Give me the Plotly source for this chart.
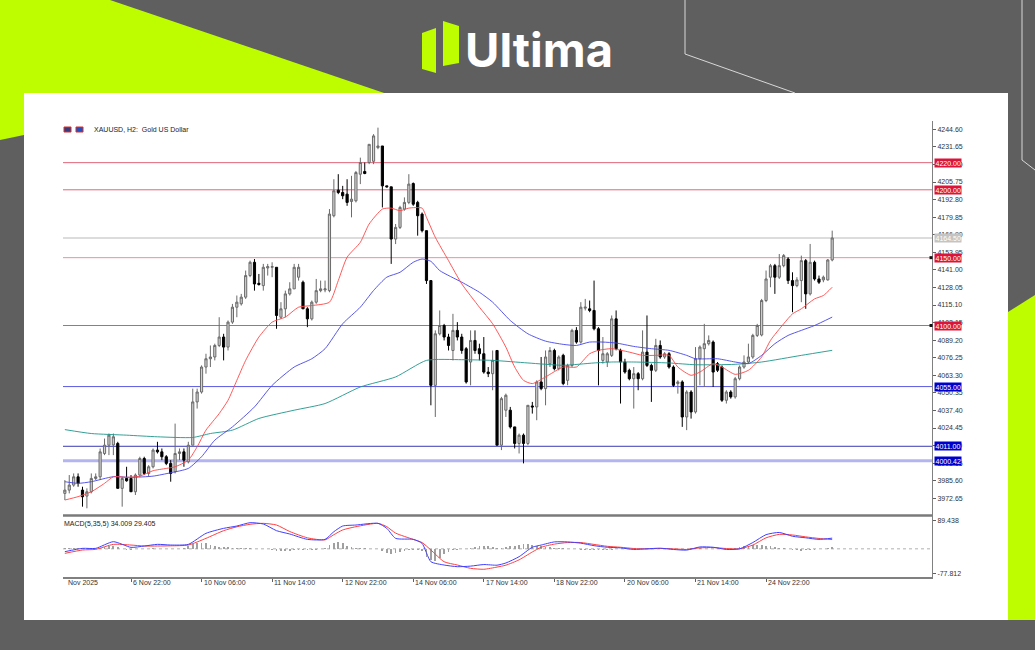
import plotly.graph_objects as go

W, H = 1035, 650
def px(x): return x / W
def py(y): return 1 - y / H

# ---------------- DATA ----------------
bars = list(range(175))
open_ = [
3976.3, 3978.7, 3982.4, 3988.5, 3978.7, 3974.3, 3977.5, 3987.3, 3988.5, 4005.7,
4011.8, 4012.0, 4013.1, 3980.0, 3987.3, 3987.3, 3977.5, 3989.8, 4002.0, 3991.0,
3995.9, 4008.2, 4006.9, 4003.3, 3998.4, 3992.2, 4005.7, 4006.9, 3999.6, 4011.8,
4043.7, 4051.0, 4069.4, 4075.5, 4076.8, 4085.3, 4091.5, 4084.1, 4102.5, 4113.5,
4116.0, 4120.9, 4136.8, 4146.6, 4131.1, 4129.4, 4142.4, 4142.9, 4142.9, 4106.1,
4112.3, 4123.3, 4127.0, 4135.6, 4131.9, 4112.3, 4104.9, 4117.2, 4125.7, 4126.2,
4125.7, 4180.9, 4199.7, 4198.0, 4196.8, 4191.4, 4191.9, 4211.5, 4213.5, 4220.1,
4221.0, 4231.1, 4232.3, 4202.9, 4202.2, 4163.7, 4172.3, 4185.8, 4190.7, 4204.6,
4190.7, 4182.1, 4169.9, 4133.1, 4055.9, 4093.9, 4100.0, 4091.5, 4081.6, 4096.4,
4091.5, 4082.9, 4073.1, 4089.0, 4082.9, 4079.2, 4065.7, 4064.5, 4081.6, 4011.8,
4037.6, 4037.6, 4025.3, 4013.1, 4019.2, 4013.1, 4040.7, 4040.0, 4058.4, 4053.5,
4071.8, 4081.6, 4068.2, 4078.0, 4059.6, 4070.6, 4096.4, 4087.8, 4112.8, 4112.3,
4111.1, 4097.6, 4074.3, 4073.1, 4078.0, 4104.9, 4081.7, 4073.1, 4067.0, 4060.8,
4064.5, 4060.8, 4080.4, 4070.6, 4067.0, 4085.3, 4076.8, 4079.2, 4069.4, 4057.2,
4058.4, 4032.6, 4051.0, 4036.3, 4075.5, 4082.9, 4086.6, 4087.8, 4071.9, 4069.4,
4044.9, 4051.0, 4047.4, 4060.8, 4069.4, 4073.1, 4076.8, 4092.7, 4093.0, 4118.4,
4135.6, 4144.1, 4135.6, 4144.1, 4149.0, 4133.1, 4129.4, 4133.1, 4147.8, 4123.3,
4146.6, 4134.3, 4133.6, 4133.6, 4148.3]
high = [
3986.1, 3989.8, 3991.0, 3991.0, 3981.2, 3980.0, 3991.0, 3991.0, 4009.4, 4016.7,
4020.4, 4020.4, 4014.3, 3988.5, 3995.9, 3989.8, 3991.0, 4003.3, 4003.3, 3997.1,
4009.4, 4014.3, 4009.4, 4004.5, 4000.8, 4027.7, 4009.4, 4009.4, 4014.3, 4053.5,
4053.5, 4070.6, 4079.2, 4085.3, 4086.6, 4106.1, 4093.9, 4103.7, 4115.9, 4122.1,
4123.3, 4140.5, 4147.8, 4149.0, 4138.0, 4145.4, 4145.4, 4146.6, 4142.9, 4117.2,
4125.7, 4131.9, 4145.4, 4145.4, 4133.1, 4113.5, 4118.4, 4134.3, 4133.1, 4133.1,
4185.8, 4207.8, 4211.5, 4202.9, 4207.8, 4210.3, 4213.9, 4223.7, 4220.1, 4233.5,
4241.0, 4245.8, 4232.3, 4202.9, 4202.2, 4174.8, 4188.2, 4194.4, 4211.5, 4205.4,
4191.9, 4183.3, 4169.9, 4133.1, 4096.4, 4111.1, 4101.2, 4093.9, 4108.6, 4102.5,
4093.9, 4084.1, 4096.4, 4096.4, 4086.6, 4091.5, 4069.4, 4081.6, 4081.6, 4047.4,
4049.8, 4040.0, 4025.3, 4020.4, 4020.4, 4041.2, 4043.7, 4059.6, 4076.8, 4081.6,
4084.1, 4082.9, 4078.0, 4079.2, 4071.8, 4097.6, 4098.8, 4117.2, 4119.6, 4118.4,
4133.1, 4098.8, 4091.5, 4080.4, 4107.4, 4111.1, 4082.9, 4075.5, 4068.2, 4069.4,
4065.7, 4096.4, 4107.4, 4071.9, 4090.2, 4089.0, 4080.4, 4080.4, 4070.6, 4059.6,
4059.6, 4052.3, 4052.3, 4084.1, 4085.3, 4101.2, 4092.7, 4089.0, 4073.1, 4070.6,
4052.3, 4052.3, 4062.1, 4070.6, 4078.0, 4086.6, 4093.9, 4101.2, 4119.6, 4140.5,
4145.4, 4145.4, 4152.7, 4152.7, 4150.3, 4139.2, 4135.6, 4151.5, 4149.0, 4160.1,
4147.8, 4136.8, 4136.8, 4149.0, 4169.9]
low = [
3971.4, 3976.3, 3981.2, 3981.2, 3966.5, 3965.3, 3976.3, 3986.1, 3986.1, 4004.5,
4004.5, 4004.5, 3980.0, 3966.5, 3984.9, 3977.5, 3975.1, 3988.5, 3989.8, 3988.5,
3994.7, 4005.7, 4000.8, 3997.1, 3984.9, 3991.0, 4000.8, 3995.9, 3998.4, 4011.8,
4038.8, 4049.8, 4064.5, 4069.4, 4074.3, 4084.1, 4074.3, 4081.6, 4101.2, 4106.1,
4114.7, 4119.6, 4135.6, 4125.7, 4129.4, 4125.7, 4136.8, 4135.6, 4097.6, 4104.9,
4106.1, 4122.1, 4127.0, 4133.1, 4112.3, 4098.8, 4103.7, 4116.0, 4124.5, 4124.5,
4124.5, 4179.7, 4196.8, 4193.1, 4188.2, 4179.7, 4190.7, 4204.2, 4211.5, 4218.9,
4218.9, 4229.9, 4187.0, 4201.7, 4145.4, 4160.0, 4171.1, 4184.6, 4189.4, 4188.2,
4166.2, 4168.6, 4130.6, 4041.2, 4032.6, 4092.7, 4089.0, 4081.6, 4074.3, 4089.0,
4079.2, 4057.2, 4055.9, 4079.2, 4074.3, 4064.5, 4062.0, 4052.3, 4011.8, 4008.2,
4032.6, 4024.1, 4009.4, 4005.7, 3998.4, 4011.8, 4035.1, 4030.2, 4052.3, 4041.2,
4069.4, 4066.9, 4066.9, 4056.0, 4056.0, 4069.4, 4086.6, 4086.6, 4111.1, 4109.8,
4096.4, 4055.9, 4071.9, 4069.4, 4076.8, 4081.7, 4042.5, 4064.5, 4059.6, 4038.8,
4052.3, 4059.6, 4069.4, 4043.7, 4065.7, 4075.5, 4075.5, 4068.2, 4054.7, 4049.8,
4025.3, 4022.9, 4031.4, 4035.1, 4055.9, 4054.7, 4085.3, 4054.7, 4065.7, 4043.7,
4042.5, 4046.1, 4046.1, 4059.6, 4068.2, 4071.9, 4075.5, 4091.5, 4092.0, 4117.2,
4128.2, 4123.3, 4134.3, 4142.9, 4130.6, 4109.8, 4128.2, 4117.2, 4112.3, 4122.1,
4133.1, 4130.6, 4131.9, 4133.1, 4147.3]
close = [
3978.7, 3982.4, 3988.5, 3983.7, 3973.8, 3977.5, 3987.3, 3988.5, 4006.9, 4011.8,
4019.2, 4018.0, 3980.0, 3987.3, 3985.6, 3977.5, 3989.8, 4002.0, 3991.0, 3995.9,
4008.2, 4006.9, 4003.3, 3998.4, 3991.0, 4005.7, 4006.9, 4000.8, 4011.8, 4043.7,
4051.0, 4069.4, 4075.5, 4076.8, 4085.3, 4091.5, 4084.1, 4102.5, 4113.5, 4117.2,
4120.9, 4136.8, 4146.6, 4130.6, 4130.2, 4142.9, 4143.4, 4143.4, 4107.4, 4112.3,
4123.3, 4127.0, 4142.9, 4142.9, 4112.3, 4104.9, 4117.2, 4125.7, 4127.0, 4127.0,
4182.1, 4199.3, 4198.0, 4195.6, 4190.7, 4193.1, 4212.7, 4220.1, 4212.0, 4233.5,
4239.7, 4232.3, 4202.9, 4202.2, 4163.7, 4172.3, 4187.0, 4190.7, 4204.2, 4189.4,
4180.9, 4169.9, 4133.1, 4055.9, 4093.9, 4100.0, 4091.5, 4085.3, 4096.4, 4091.5,
4081.6, 4058.4, 4089.0, 4081.6, 4079.2, 4065.7, 4064.5, 4074.3, 4011.8, 4046.1,
4048.6, 4025.3, 4013.1, 4019.2, 4013.1, 4041.2, 4040.0, 4058.4, 4053.5, 4076.8,
4081.6, 4068.2, 4076.8, 4057.2, 4070.6, 4096.4, 4087.8, 4113.5, 4113.5, 4111.1,
4097.6, 4081.6, 4079.2, 4079.2, 4104.9, 4082.9, 4073.1, 4065.7, 4060.8, 4064.5,
4060.8, 4080.4, 4070.6, 4067.0, 4085.3, 4076.8, 4079.2, 4069.4, 4055.9, 4058.4,
4032.6, 4051.0, 4036.3, 4075.5, 4084.1, 4086.6, 4089.0, 4065.7, 4067.0, 4044.9,
4051.0, 4047.4, 4060.8, 4069.4, 4073.1, 4076.8, 4092.7, 4100.0, 4118.4, 4134.3,
4144.1, 4135.6, 4144.1, 4151.5, 4133.1, 4129.4, 4133.6, 4147.8, 4123.3, 4146.6,
4134.3, 4131.9, 4135.6, 4148.3, 4164.5]

# moving averages (bar index, price)
ma_red_bars = [0, 3, 6, 9, 11, 14, 17, 20, 23, 25, 28, 30, 32, 35, 37, 39, 41, 44, 47, 50, 53, 56, 60, 62, 64, 67,
               69, 72, 74, 76, 78, 81, 82, 84, 87, 90, 94, 97, 100, 102, 104, 106, 109, 113, 116, 119, 121, 124,
               128, 131, 134, 137, 139, 142, 144, 147, 149, 152, 155, 158, 160, 163, 165, 167, 170, 172, 174]
ma_red = [3971.4, 3973.9, 3977.5, 3983.7, 3988.5, 3988.1, 3989.0, 3993.0, 3994.7, 3995.9, 4000.8, 4010.6, 4022.9,
          4035.1, 4044.9, 4059.6, 4074.3, 4091.5, 4102.5, 4106.2, 4113.5, 4114.7, 4117.2, 4133.1, 4150.3, 4161.3,
          4174.8, 4185.8, 4186.5, 4184.6, 4186.5, 4186.5, 4179.7, 4165.0, 4147.8, 4130.7, 4113.5, 4101.3, 4084.1,
          4069.4, 4059.6, 4057.2, 4062.1, 4069.4, 4069.4, 4079.2, 4081.7, 4082.9, 4080.4, 4078.0, 4078.0, 4078.0,
          4069.4, 4063.3, 4065.7, 4071.9, 4069.4, 4064.0, 4067.0, 4076.8, 4089.0, 4101.3, 4108.6, 4112.3, 4119.6,
          4122.1, 4128.2]
ma_blue_bars = [0, 3, 6, 11, 15, 20, 24, 28, 31, 34, 38, 43, 47, 52, 56, 59, 63, 67, 70, 73, 76, 79, 81, 83, 85,
                90, 94, 97, 101, 105, 109, 113, 116, 119, 122, 125, 129, 133, 137, 141, 143, 148, 152, 155, 158,
                161, 164, 167, 170, 174]
ma_blue = [3984.9, 3983.7, 3984.9, 3988.6, 3988.1, 3989.0, 3991.5, 3994.7, 4003.3, 4015.5, 4025.3, 4040.0, 4055.9,
           4069.4, 4075.5, 4082.9, 4101.3, 4113.5, 4125.8, 4135.6, 4139.2, 4146.6, 4149.0, 4147.3, 4140.5, 4131.9,
           4124.5, 4117.2, 4103.7, 4093.9, 4088.5, 4086.1, 4085.3, 4087.8, 4087.8, 4087.1, 4084.6, 4082.9, 4081.7,
           4078.0, 4075.5, 4075.5, 4073.1, 4071.9, 4078.0, 4086.6, 4092.7, 4096.4, 4100.0, 4106.2]
ma_teal_bars = [0, 6, 14, 21, 29, 33, 38, 44, 52, 59, 67, 75, 82, 90, 97, 105, 113, 120, 124, 129, 137, 143, 152,
                158, 167, 174]
ma_teal = [4023.3, 4020.4, 4019.2, 4018.0, 4017.5, 4020.4, 4022.9, 4031.5, 4037.6, 4042.5, 4054.7, 4062.1, 4074.3,
           4074.8, 4074.3, 4072.4, 4070.7, 4072.4, 4073.1, 4073.1, 4072.4, 4071.1, 4071.4, 4073.1, 4078.0, 4081.7]

# MACD(5,35,5) panel
macd_bars = [0, 4, 7, 11, 15, 18, 21, 24, 28, 32, 36, 39, 42, 45, 48, 51, 55, 59, 61, 63, 66, 71, 73, 75, 79, 81,
             83, 86, 89, 92, 95, 98, 100, 103, 106, 108, 111, 114, 117, 120, 123, 126, 129, 132, 135, 138, 141,
             144, 147, 150, 153, 156, 159, 162, 165, 168, 171, 174]
macd_main = [-9, 1.5, 1.5, 22.7, 4.7, 8.9, 14.2, 12.1, 14.2, 49.2, 65.1, 72.5, 83.1, 78.9, 57.7, 47.1, 30.1, 30.1,
             54.5, 72.5, 75.7, 81.0, 65.1, 33.3, 30.1, 17.4, -40.9, -51.5, -56.8, -55, -50, -52, -45, -25, 5, 12,
             22, 22, 18, 10, 5, 3, -2, 0, 2, -2, -4, 6, 5, -2, 0, 20, 45, 52, 40, 35, 30, 34.0]
macd_signal = [-14.4, -3.8, -1.7, 14.2, 12, 8.9, 8.9, 9.5, 12.1, 33.3, 57.7, 70, 78, 81.0, 75.7, 55, 35, 28.5,
               45, 60, 70.4, 81.0, 70.4, 50, 30, 20, -3.8, -41, -51.5, -62, -65, -58, -52, -35, -10, 5, 15, 20,
               20, 14, 8, 5, 1, 0, 1, 0, -2, 3, 4, 1, 0, 12, 35, 46, 44, 38, 33, 29.4]
macd_hist = [
3, 4, 4, 3, 2, 1, 0, 1, 4, 7, 9, 8, 5, -2, -3, -3, -2, 0, 1, 1,
2, 1, 0, 1, 0, 0, 1, 2, 8, 14, 18, 19, 17, 13, 9, 7, 6, 5, 4, 3,
3, 2, 2, 1, 0, -1, -2, -4, -7, -8, -8, -6, -4, -3, -4, -5, -4, -3, -1, 4,
12, 20, 21, 17, 10, 6, 4, 3, 2, 1, 0, 0, -6, -12, -15, -14, -10, -7, -5, -5,
-4, -8, -25, -36, -38, -30, -18, -10, -5, -3, -2, -1, 2, 5, 8, 10, 8, 5, 3, 4,
6, 8, 10, 12, 14, 15, 13, 10, 8, 6, 5, 4, 3, 2, 1, 0, -2, -3, -4, -5,
-5, -4, -4, -3, -3, -2, -2, -2, -1, -1, 0, 1, 1, 1, 0, 0, -1, -1, -2, -2,
-2, -1, 3, 4, 3, 1, 0, -1, -2, -2, -2, -1, 2, 5, 8, 10, 12, 13, 12, 10,
8, 6, 4, 2, 0, -3, -5, -6, -5, -4, -3, -1, 1, 3, 5]

# axis labels
price_ticks = [4244.60, 4231.65, 4218.70, 4205.75, 4192.80, 4179.85, 4166.90, 4153.95, 4141.00, 4128.05, 4115.10,
               4102.15, 4089.20, 4076.25, 4063.30, 4050.35, 4037.40, 4024.45, 4011.50, 3998.55, 3985.60, 3972.65]
macd_ticks = [89.438, -77.812]
time_tick_bars = [15, 31, 47, 63, 79, 95, 111, 127, 143, 159]
time_tick_text = ["6 Nov 22:00", "10 Nov 06:00", "11 Nov 14:00", "12 Nov 22:00", "14 Nov 06:00",
                  "17 Nov 14:00", "18 Nov 22:00", "20 Nov 06:00", "21 Nov 14:00", "24 Nov 22:00"]

# horizontal levels
levels = [4220.00, 4200.00, 4164.50, 4150.00, 4100.00, 4055.00, 4011.00, 4000.42]
level_line_colors = ["#e06478", "#e06478", "#dcdcdc", "#f08ca0", "#e0586c", "#5a5ae0", "#3a3ab4", "#b4b4f0"]
level_line_widths = [1, 1, 2, 1, 1, 1, 1, 3]
level_label_bg = ["#dc143c", "#dc143c", "#c4c4c4", "#dc143c", "#dc143c", "#0000cd", "#0000cd", "#0000cd"]
alert_levels = [4150.00, 4100.00]

# ---------------- FIGURE ----------------
FONT = "Liberation Sans, Arial, sans-serif"
fig = go.Figure()

fig.add_trace(go.Candlestick(
    x=bars, open=open_, high=high, low=low, close=close,
    increasing=dict(line=dict(color="#6a6a6a", width=1), fillcolor="#d2d2d2"),
    decreasing=dict(line=dict(color="#000000", width=1), fillcolor="#000000"),
    whiskerwidth=0, xaxis="x", yaxis="y", showlegend=False, hoverinfo="skip"))

for xs, ys, col in [(ma_teal_bars, ma_teal, "rgba(30,150,140,0.9)"),
                    (ma_blue_bars, ma_blue, "rgba(70,70,230,0.9)"),
                    (ma_red_bars, ma_red, "rgba(255,70,70,0.9)")]:
    fig.add_trace(go.Scatter(x=xs, y=ys, mode="lines", line=dict(color=col, width=1, shape="spline", smoothing=0.6),
                             xaxis="x", yaxis="y", showlegend=False, hoverinfo="skip"))

fig.add_trace(go.Bar(x=bars, y=macd_hist, marker=dict(color="#a0a0a0", line=dict(width=0)), width=0.4,
                     xaxis="x2", yaxis="y2", showlegend=False, hoverinfo="skip"))
fig.add_trace(go.Scatter(x=macd_bars, y=macd_signal, mode="lines",
                         line=dict(color="#ff4040", width=1, shape="spline", smoothing=0.6),
                         xaxis="x2", yaxis="y2", showlegend=False, hoverinfo="skip"))
fig.add_trace(go.Scatter(x=macd_bars, y=macd_main, mode="lines",
                         line=dict(color="#4040ff", width=1, shape="spline", smoothing=0.6),
                         xaxis="x2", yaxis="y2", showlegend=False, hoverinfo="skip"))

XDOM = [px(63), px(932)]
XRANGE = [-0.42, 196.63]
fig.update_layout(
    width=W, height=H, margin=dict(l=0, r=0, t=0, b=0),
    paper_bgcolor="#5f5f5f", plot_bgcolor="white",
    font=dict(family=FONT, size=7, color="#333333"),
    bargap=0,
    xaxis=dict(domain=XDOM, range=XRANGE, anchor="y", showticklabels=False, showgrid=False,
               zeroline=False, rangeslider=dict(visible=False), fixedrange=True),
    yaxis=dict(domain=[py(516), py(121)], range=[3959.63, 4250.70], side="right", anchor="x",
               tickvals=price_ticks, ticktext=["%.2f" % v for v in price_ticks],
               ticks="outside", ticklen=3, tickcolor="#606060", showline=True, linecolor="#808080",
               linewidth=1, showgrid=False, zeroline=False, tickfont=dict(size=7, color="#333333")),
    xaxis2=dict(domain=XDOM, range=XRANGE, anchor="y2", showticklabels=False, showgrid=False,
                zeroline=False, tickvals=time_tick_bars, ticks="outside", ticklen=3, tickcolor="#606060",
                showline=True, linecolor="#808080", linewidth=1.5),
    yaxis2=dict(domain=[py(577), py(516)], range=[-89.58, 104.38], side="right", anchor="x2",
                tickvals=macd_ticks, ticktext=["89.438", "-77.812"], ticks="outside", ticklen=3,
                tickcolor="#606060", showline=True, linecolor="#808080", linewidth=1, showgrid=False,
                zeroline=False, tickfont=dict(size=7, color="#333333")),
)

shapes = []
LIME = "#bdfd00"
# background decorations
shapes.append(dict(type="path", xref="paper", yref="paper", layer="below", line=dict(width=0), fillcolor=LIME,
                   path=f"M{px(0)},{py(0)} L{px(110)},{py(0)} L{px(390)},{py(95)} L{px(24)},{py(95)} "
                        f"L{px(24)},{py(135)} L{px(0)},{py(140)} Z"))
shapes.append(dict(type="path", xref="paper", yref="paper", layer="below", line=dict(width=0), fillcolor=LIME,
                   path=f"M{px(1035)},{py(295)} L{px(1035)},{py(620)} L{px(1008)},{py(620)} L{px(1008)},{py(312)} Z"))
shapes.append(dict(type="rect", xref="paper", yref="paper", layer="below", line=dict(width=0), fillcolor="white",
                   x0=px(24), x1=px(1008), y0=py(620), y1=py(93)))
shapes.append(dict(type="path", xref="paper", yref="paper", layer="below", line=dict(color="#d8d8d8", width=1),
                   path=f"M{px(685)},{py(0)} L{px(685)},{py(54)} L{px(795)},{py(93)}"))
shapes.append(dict(type="path", xref="paper", yref="paper", layer="below", line=dict(color="#d8d8d8", width=1),
                   path=f"M{px(1022)},{py(0)} L{px(1022)},{py(160)} L{px(1035)},{py(170)}"))
# logo icon
shapes.append(dict(type="path", xref="paper", yref="paper", line=dict(width=0), fillcolor=LIME,
                   path=f"M{px(422)},{py(33)} L{px(436)},{py(28)} L{px(436)},{py(73)} L{px(422)},{py(69)} Z"))
shapes.append(dict(type="path", xref="paper", yref="paper", line=dict(width=0), fillcolor=LIME,
                   path=f"M{px(443)},{py(21)} L{px(459)},{py(26)} L{px(459)},{py(63)} L{px(443)},{py(66)} Z"))

# level lines
for lv, col, wd in zip(levels, level_line_colors, level_line_widths):
    shapes.append(dict(type="line", xref="x domain", yref="y", x0=0, x1=1, y0=lv, y1=lv,
                       line=dict(color=col, width=wd), layer="below"))
# alert markers on the price scale
for lv in alert_levels:
    shapes.append(dict(type="rect", xref="paper", yref="y", x0=px(929.5), x1=px(932.5), y0=lv - 1.1, y1=lv + 1.1,
                       line=dict(width=0), fillcolor="#111111"))
# panel separator and macd zero line
shapes.append(dict(type="line", xref="paper", yref="paper", x0=px(63), x1=px(932), y0=py(515.5), y1=py(515.5),
                   line=dict(color="#7a7a7a", width=2.5)))
shapes.append(dict(type="line", xref="x2 domain", yref="y2", x0=0, x1=1, y0=0, y1=0,
                   line=dict(color="#b0b0b0", width=1, dash="dot"), layer="below"))
# legend icons
shapes.append(dict(type="rect", xref="paper", yref="paper", x0=px(64), x1=px(71), y0=py(132), y1=py(127),
                   line=dict(color="#d03030", width=1), fillcolor="#3a3a7a"))
shapes.append(dict(type="rect", xref="paper", yref="paper", x0=px(76), x1=px(83), y0=py(132), y1=py(127),
                   line=dict(color="#d03030", width=1), fillcolor="#2050c0"))
fig.update_layout(shapes=shapes)

ann = []
for lv, bg in zip(levels, level_label_bg):
    ann.append(dict(xref="paper", yref="y", x=px(933.5), y=lv, xanchor="left", yanchor="middle",
                    text="%.2f" % lv, showarrow=False, bgcolor=bg, borderpad=0.5,
                    font=dict(family=FONT, size=7, color="white")))
for b, t in zip(time_tick_bars, time_tick_text):
    ann.append(dict(xref="x2", yref="paper", x=b, y=py(582), xanchor="left", yanchor="middle",
                    text=t, showarrow=False, font=dict(family=FONT, size=7, color="#333333")))
ann.append(dict(xref="paper", yref="paper", x=px(66), y=py(582), xanchor="left", yanchor="middle",
                text="Nov 2025", showarrow=False, font=dict(family=FONT, size=7, color="#333333")))
ann.append(dict(xref="paper", yref="paper", x=px(92), y=py(129.5), xanchor="left", yanchor="middle",
                text="XAUUSD, H2:  Gold US Dollar", showarrow=False, font=dict(family=FONT, size=7, color="#222222")))
ann.append(dict(xref="paper", yref="paper", x=px(62), y=py(524), xanchor="left", yanchor="middle",
                text="MACD(5,35,5) 34.009 29.405", showarrow=False, font=dict(family=FONT, size=7, color="#222222")))
ann.append(dict(xref="paper", yref="paper", x=px(463), y=py(50), xanchor="left", yanchor="middle",
                text="<b>Ultima</b>", showarrow=False, font=dict(family="Inter, Roboto, sans-serif", size=47, color="white")))
fig.update_layout(annotations=ann)

fig.write_html("out.html", config={"displayModeBar": False, "staticPlot": True},
               post_script="document.body.style.margin='0';document.body.style.overflow='hidden';")
